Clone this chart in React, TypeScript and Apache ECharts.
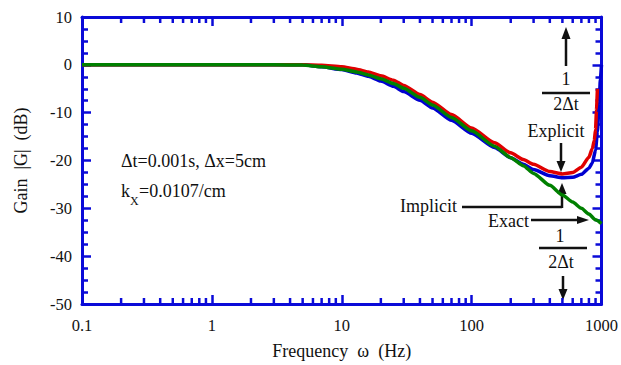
import React, { useEffect, useRef } from "react";
import * as echarts from "echarts";

// Frequency (Hz) and gain (dB)
const freqExact = [0.1, 1, 3, 5, 7, 10, 13, 16, 20, 25, 30, 40, 50, 70, 100, 150, 200, 250, 300, 400, 500, 600, 700, 800, 900, 1000];
const gainExact = [0, 0, 0, -0.05, -0.4, -0.9, -1.5, -2.1, -2.9, -3.9, -4.9, -6.8, -8.4, -11.0, -13.8, -17.0, -19.4, -21.1, -22.7, -25.2, -27.2, -28.7, -30.0, -31.2, -32.4, -33.2];

const freqExplicit = [0.1, 1, 5, 7, 10, 13, 16, 20, 25, 30, 40, 50, 70, 100, 150, 200, 250, 300, 400, 500, 600, 700, 800, 850, 880, 900, 915, 930];
const gainExplicit = [0, 0, 0, -0.1, -0.4, -0.9, -1.5, -2.3, -3.2, -4.3, -6.2, -7.8, -10.4, -13.2, -16.3, -18.4, -19.8, -20.8, -22.3, -22.8, -22.5, -21.4, -19.3, -17.5, -15.8, -13.5, -9.5, -5];

const freqImplicit = [0.1, 1, 5, 7, 10, 13, 16, 20, 25, 30, 40, 50, 70, 100, 150, 200, 250, 300, 400, 500, 600, 700, 800, 850, 900, 930, 960, 980, 1000];
const gainImplicit = [0, 0, 0, -0.4, -1.0, -1.7, -2.4, -3.4, -4.5, -5.6, -7.4, -9.0, -11.6, -14.3, -17.3, -19.4, -20.8, -21.9, -23.2, -23.6, -23.5, -22.9, -21.6, -20.5, -17.8, -14, -8, -3, 0];

const xMinorTicks = [0.2, 0.3, 0.4, 0.5, 0.6, 0.7, 0.8, 0.9, 2, 3, 4, 5, 6, 7, 8, 9, 20, 30, 40, 50, 60, 70, 80, 90, 200, 300, 400, 500, 600, 700, 800, 900];

const Y_MIN = -50;
const Y_MAX = 10;

const AXIS_BLUE = "#0a0ad8";
const SERIF = "Liberation Serif";

function zip(xs: number[], ys: number[]) {
  return xs.map((x, i) => [x, ys[i]]);
}

function text(t: string, x: number, y: number, size: number, align = "center") {
  return {
    type: "text",
    x,
    y,
    style: { text: t, fontSize: size, fontFamily: SERIF, fill: "#111", align, verticalAlign: "middle" },
  };
}
function seg(x1: number, y1: number, x2: number, y2: number, w = 2.5) {
  return { type: "line", shape: { x1, y1, x2, y2 }, style: { stroke: "#111", lineWidth: w } };
}
function head(points: number[][]) {
  return { type: "polygon", shape: { points }, style: { fill: "#111" } };
}

export default function App() {
  const ref = useRef<HTMLDivElement>(null);
  useEffect(() => {
    if (!ref.current) return;
    const chart = echarts.init(ref.current, null, { renderer: "svg" });
    const xAxisBase = {
      type: "log",
      logBase: 10,
      min: 0.1,
      max: 1000,
      axisLine: { show: true, onZero: false, lineStyle: { color: AXIS_BLUE, width: 3 } },
      axisTick: { show: true, inside: true, length: 9, lineStyle: { color: AXIS_BLUE, width: 2.5 } },
      splitLine: { show: false },
    };
    const yAxisBase = {
      type: "value",
      min: Y_MIN,
      max: Y_MAX,
      interval: 10,
      axisLine: { show: true, onZero: false, lineStyle: { color: AXIS_BLUE, width: 3 } },
      axisTick: { show: true, inside: true, length: 9, lineStyle: { color: AXIS_BLUE, width: 2.5 } },
      minorTick: { show: true, splitNumber: 4, length: 6, lineStyle: { color: AXIS_BLUE, width: 2.5 } },
      splitLine: { show: false },
      minorSplitLine: { show: false },
    };
    const lineCommon = { showSymbol: false, smooth: 0.2, smoothMonotone: "x" };
    chart.setOption({
      animation: false,
      grid: { left: 82, right: 18, top: 17, bottom: 57 },
      xAxis: [
        {
          ...xAxisBase,
          position: "bottom",
          axisLabel: {
            color: "#111",
            fontSize: 16.5,
            fontFamily: SERIF,
            margin: 13,
            formatter: (v: number) => String(v),
          },
          name: "Frequency  \u03c9  (Hz)",
          nameLocation: "middle",
          nameGap: 38,
          nameTextStyle: { color: "#111", fontSize: 18, fontFamily: SERIF },
        },
        { ...xAxisBase, position: "top", axisLabel: { show: false } },
      ],
      yAxis: [
        {
          ...yAxisBase,
          position: "left",
          axisLabel: { color: "#111", fontSize: 16.5, fontFamily: SERIF, margin: 10 },
          name: "Gain  |G|  (dB)",
          nameLocation: "middle",
          nameGap: 52,
          nameTextStyle: { color: "#111", fontSize: 18, fontFamily: SERIF },
        },
        { ...yAxisBase, position: "right", axisLabel: { show: false } },
      ],
      series: [
        {
          type: "custom",
          name: "minorTicks",
          clip: false,
          silent: true,
          data: xMinorTicks.map((v) => [v, Y_MIN]),
          renderItem: (_params: any, api: any) => {
            const v = api.value(0);
            const pb = api.coord([v, Y_MIN]);
            const pt = api.coord([v, Y_MAX]);
            const st = { stroke: AXIS_BLUE, lineWidth: 2.5 };
            return {
              type: "group",
              children: [
                { type: "line", shape: { x1: pb[0], y1: pb[1], x2: pb[0], y2: pb[1] - 6 }, style: st },
                { type: "line", shape: { x1: pt[0], y1: pt[1], x2: pt[0], y2: pt[1] + 6 }, style: st },
              ],
            };
          },
        },
        {
          type: "line",
          name: "Implicit",
          data: zip(freqImplicit, gainImplicit),
          ...lineCommon,
          lineStyle: { color: "#0000d0", width: 3.5 },
          itemStyle: { color: "#0000d0" },
          z: 3,
        },
        {
          type: "line",
          name: "Explicit",
          data: zip(freqExplicit, gainExplicit),
          ...lineCommon,
          lineStyle: { color: "#e00000", width: 3.5 },
          itemStyle: { color: "#e00000" },
          z: 4,
        },
        {
          type: "line",
          name: "Exact",
          data: zip(freqExact, gainExact),
          ...lineCommon,
          lineStyle: { color: "#008000", width: 3.5 },
          itemStyle: { color: "#008000" },
          z: 5,
        },
      ],
      graphic: [
        // parameters
        text("\u0394t=0.001s, \u0394x=5cm", 121, 161, 18, "left"),
        text("k", 121, 191, 18, "left"),
        text("X", 130, 201, 12, "left"),
        text("=0.0107/cm", 139, 191, 18, "left"),
        // upper 1/(2Δt) with up arrow
        seg(566, 66, 566, 36),
        head([[566, 27], [561.5, 39], [570.5, 39]]),
        text("1", 566, 79, 18),
        seg(542, 93, 590, 93, 2.5),
        text("2\u0394t", 566, 104, 18),
        // Explicit
        text("Explicit", 556, 131, 18),
        seg(561, 143, 561, 163),
        head([[561, 172], [556.5, 161], [565.5, 161]]),
        // Implicit
        text("Implicit", 457, 206, 18, "right"),
        seg(462, 207, 562, 207),
        seg(562, 208, 562, 192),
        head([[562, 183], [557.5, 194], [566.5, 194]]),
        // Exact
        text("Exact", 488, 221, 18, "left"),
        seg(531, 220, 580, 220),
        head([[589, 220], [577, 216], [577, 224]]),
        // lower 1/(2Δt) with down arrow
        text("1", 560, 236, 18),
        seg(539, 248, 587, 248, 2.5),
        text("2\u0394t", 561, 262, 18),
        seg(563, 276, 563, 291),
        head([[563, 300], [558.5, 289], [567.5, 289]]),
      ],
    });
    return () => chart.dispose();
  }, []);
  return (
    <div
      ref={ref}
      style={{ position: "fixed", left: 0, top: 0, width: 621, height: 365, background: "#fff" }}
    />
  );
}
